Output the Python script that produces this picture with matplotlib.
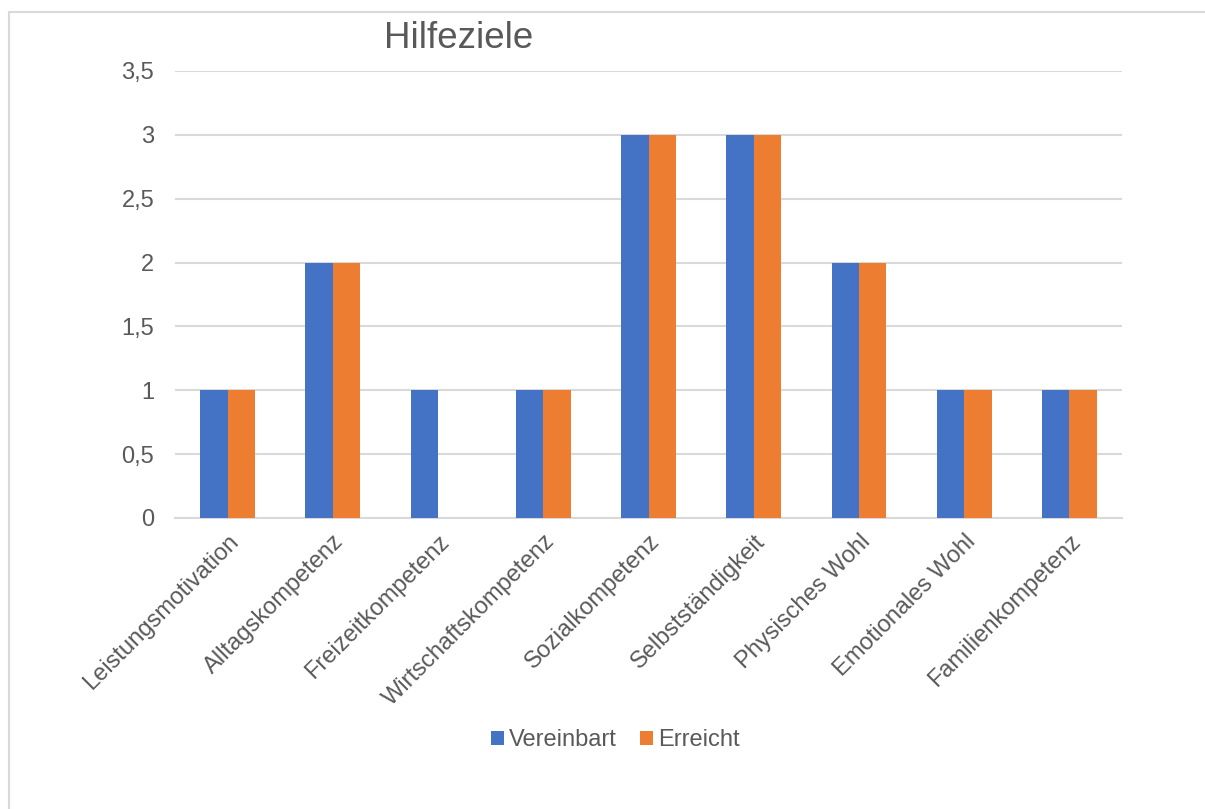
import matplotlib
matplotlib.use("Agg")
import matplotlib.pyplot as plt
from matplotlib.patches import Rectangle
import numpy as np

categories = ["Leistungsmotivation", "Alltagskompetenz", "Freizeitkompetenz",
              "Wirtschaftskompetenz", "Sozialkompetenz", "Selbstständigkeit",
              "Physisches Wohl", "Emotionales Wohl", "Familienkompetenz"]
vereinbart = [1, 2, 1, 1, 3, 3, 2, 1, 1]
erreicht = [1, 2, 0, 1, 3, 3, 2, 1, 1]
yticks = [0, 0.5, 1, 1.5, 2, 2.5, 3, 3.5]
ytick_labels = ["0", "0,5", "1", "1,5", "2", "2,5", "3", "3,5"]

plt.rcParams['font.family'] = ['Liberation Sans', 'DejaVu Sans']
txt = "#595959"

fig = plt.figure(figsize=(12.05, 8.09), dpi=100)
fig.patches.append(Rectangle((9/1205, -0.1), 1.2, 1 - 12/809 + 0.1,
                             transform=fig.transFigure, fill=False,
                             edgecolor="#d9d9d9", linewidth=1.5))
ax = fig.add_axes([175/1205, 1 - 518/809, 947/1205, (518 - 71)/809])

x = np.arange(len(categories))
w = 0.26
ax.bar(x - w/2, vereinbart, w, color="#4472C4", label="Vereinbart", zorder=3)
ax.bar(x + w/2, erreicht, w, color="#ED7D31", label="Erreicht", zorder=3)

ax.set_xlim(-0.5, len(categories) - 0.5)
ax.set_ylim(0, 3.5)
ax.set_yticks(yticks)
ax.set_yticklabels(ytick_labels, fontsize=17, color=txt)
ax.yaxis.grid(True, color="#d9d9d9", linewidth=1.5, zorder=0)
ax.tick_params(axis='y', length=0, pad=15)
ax.tick_params(axis='x', length=0, pad=9)
ax.set_xticks(x)
ax.set_xticklabels(categories, rotation=45, ha='right', va='top',
                   rotation_mode='anchor', fontsize=17, color=txt)
for s in ["left", "right", "top"]:
    ax.spines[s].set_visible(False)
ax.spines["bottom"].set_color("#d9d9d9")
ax.spines["bottom"].set_linewidth(1.5)

fig.text(459/1205, 1 - 39/809, "Hilfeziele", fontsize=26.5, color=txt,
         ha='center', va='center')

leg = fig.legend(loc='center', bbox_to_anchor=(615/1205, 1 - 740/809),
                 ncol=2, frameon=False, fontsize=17, handlelength=0.55,
                 handleheight=0.55, handletextpad=0.2, columnspacing=1.0)
for t in leg.get_texts():
    t.set_color(txt)

fig.savefig("out.png", dpi=100)
